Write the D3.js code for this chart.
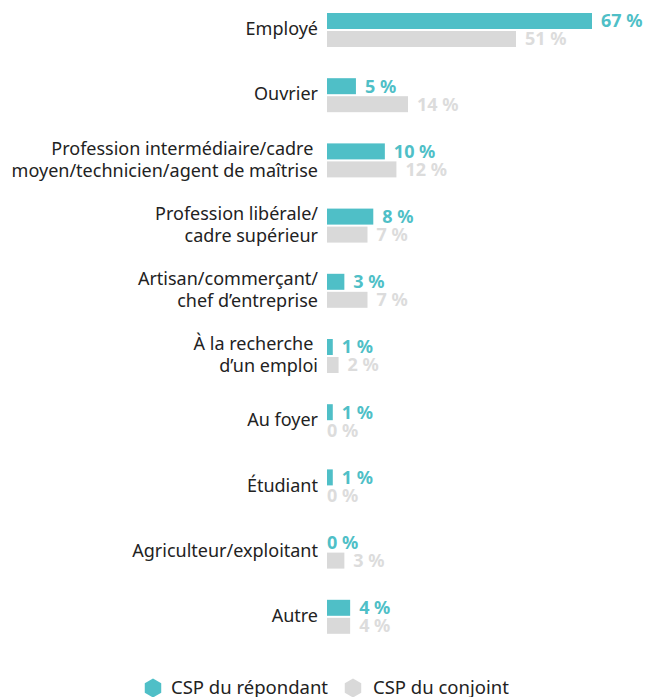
<!DOCTYPE html>
<html><head><meta charset="utf-8">
<script src="https://cdn.jsdelivr.net/npm/d3@7"></script>
<style>body{margin:0;background:#fff}svg{display:block}text{font-family:"Noto Sans",sans-serif}</style>
</head><body><svg id="c" width="651" height="697"></svg>
<script>
const categories = [
  ["Employé"],
  ["Ouvrier"],
  ["Profession intermédiaire/cadre\u00a0", "moyen/technicien/agent de maîtrise"],
  ["Profession libérale/", "cadre supérieur"],
  ["Artisan/commerçant/", "chef d’entreprise"],
  ["À la recherche\u00a0", "d’un emploi"],
  ["Au foyer"],
  ["Étudiant"],
  ["Agriculteur/exploitant"],
  ["Autre"]
];
const respondant = [67, 5, 10, 8, 3, 1, 1, 1, 0, 4];
const conjoint = [51, 14, 12, 7, 7, 2, 0, 0, 3, 4];
const seriesNames = ["CSP du répondant", "CSP du conjoint"];
const colors = ["#4fbfc7", "#d9d9d9"];
const labelColors = ["#4fbfc7", "#dcdcdc"];

const svg = d3.select("#c");
const x0 = 327;
const x = d3.scaleLinear().domain([0, 14, 51, 67]).range([x0, x0 + 81, x0 + 189, x0 + 265]);
const y = d3.scaleBand().domain(d3.range(categories.length)).range([13, 13 + 65.2 * 10]).paddingInner(0).paddingOuter(0);
const barH = 16, gap = 2;

const g = svg.selectAll("g.cat").data(categories).join("g").attr("class", "cat")
  .attr("transform", (d, i) => `translate(0,${y(i)})`);

// category labels
g.each(function(d) {
  const sel = d3.select(this);
  const n = d.length, lh = 22, cy = barH + gap / 2 - 1;
  d.forEach((line, k) => {
    sel.append("text").attr("x", 318).attr("y", cy + (k - (n - 1) / 2) * lh)
      .attr("dy", "0.35em").attr("text-anchor", "end")
      .attr("font-size", 18).attr("fill", "#222").text(line);
  });
});

[respondant, conjoint].forEach((vals, s) => {
  g.append("rect").attr("x", x0).attr("y", s * (barH + gap))
    .attr("width", (d, i) => x(vals[i]) - x0).attr("height", barH).attr("fill", colors[s]);
  g.append("text").attr("x", (d, i) => x(vals[i]) + (vals[i] > 0 ? 9 : 0))
    .attr("y", s * (barH + gap) + barH / 2).attr("dy", "0.36em")
    .attr("font-size", 18).attr("font-weight", "bold").attr("fill", labelColors[s])
    .text((d, i) => vals[i] + " %");
});

// legend
const hex = (cx, cy, r) => d3.range(6).map(k => {
  const a = Math.PI / 3 * k + Math.PI / 6;
  return [cx + r * Math.cos(a), cy + r * Math.sin(a)];
});
const legX = [153, 353], legT = [171, 373];
seriesNames.forEach((name, s) => {
  svg.append("path").attr("d", d3.line()(hex(legX[s], 688, 9.5)) + "Z").attr("fill", colors[s]);
  svg.append("text").attr("x", legT[s]).attr("y", 687).attr("dy", "0.36em")
    .attr("font-size", 18.5).attr("fill", "#222").text(name);
});
</script></body></html>
